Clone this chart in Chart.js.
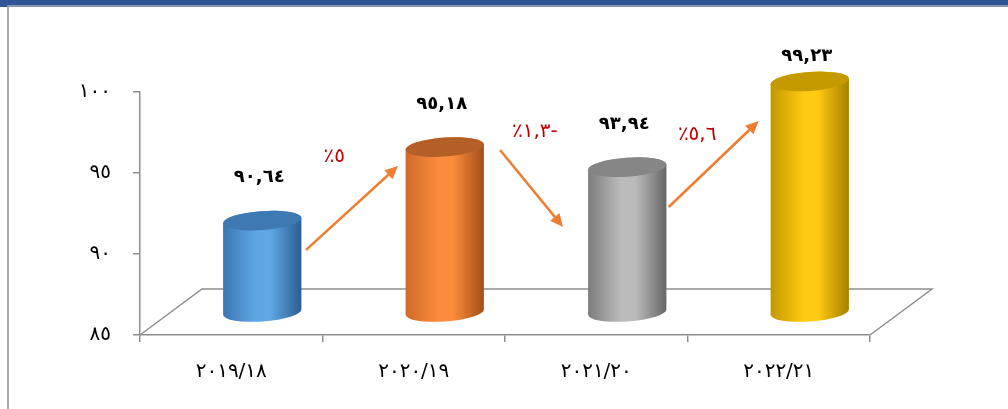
<!DOCTYPE html>
<html>
<head>
<meta charset="utf-8">
<script src="https://cdn.jsdelivr.net/npm/chart.js@4.4.0/dist/chart.umd.min.js"></script>
<style>
  html, body { margin: 0; padding: 0; background: #fff; }
  #wrap { width: 1008px; height: 409px; position: relative; }
</style>
</head>
<body>
<div id="wrap"><canvas id="myChart"></canvas></div>
<script>
let categories = ['٢٠١٩/١٨', '٢٠٢٠/١٩', '٢٠٢١/٢٠', '٢٠٢٢/٢١'];
let values = [90.64, 95.18, 93.94, 99.23];
let changes = ['٪٥', '٪١,٣-', '٪٥,٦'];
let yTicks = ['٨٥', '٩٠', '٩٥', '١٠٠'];

// arrows between bars, in (category index, value) units
let arrowFrom = [[0.41, 90.25], [1.473, 96.42], [2.397, 92.9]];
let arrowTo = [[0.914, 95.43], [1.818, 91.67], [2.89, 98.21]];
let changeAt = [[0.565, 96.0], [1.664, 97.55], [2.553, 97.35]];

// side gradient (left, highlight, right) and top colour for each cylinder
let palette = [
    { left: '#3A76B2', mid: '#5FA7E4', right: '#2C5D8F', top: '#3F79B2' },
    { left: '#D2692A', mid: '#FB8C3B', right: '#A44E19', top: '#B45F27' },
    { left: '#7C7C7C', mid: '#BBBBBB', right: '#676767', top: '#868686' },
    { left: '#C29800', mid: '#FFCA10', right: '#A38000', top: '#C49A00' }
];

const axisGray = '#8E8E8E';
const depth = { x: 62, y: -46 };
const arabicDigits = '٠١٢٣٤٥٦٧٨٩';

function toArabic(str) {
    return str.replace(/[0-9]/g, d => arabicDigits[+d]);
}

function drawCylinder(ctx, cx, top, bottom, w, c) {
    const rx = w / 2, ry = 9.5, rot = -0.07;
    const grad = ctx.createLinearGradient(cx - rx, 0, cx + rx, 0);
    grad.addColorStop(0, c.left);
    grad.addColorStop(0.42, c.mid);
    grad.addColorStop(0.6, c.mid);
    grad.addColorStop(1, c.right);

    ctx.beginPath();
    ctx.ellipse(cx, top, rx, ry, rot, Math.PI, 0, false);
    ctx.ellipse(cx, bottom, rx, ry, rot, 0, Math.PI, false);
    ctx.closePath();
    ctx.fillStyle = grad;
    ctx.fill();

    ctx.beginPath();
    ctx.ellipse(cx, top, rx, ry, rot, 0, Math.PI * 2);
    ctx.fillStyle = c.top;
    ctx.fill();
}

function drawArrow(ctx, x1, y1, x2, y2) {
    const ang = Math.atan2(y2 - y1, x2 - x1);
    const head = 13, half = 6;
    const bx = x2 - head * Math.cos(ang), by = y2 - head * Math.sin(ang);
    ctx.strokeStyle = '#ED7D31';
    ctx.fillStyle = '#ED7D31';
    ctx.lineWidth = 2.5;
    ctx.beginPath();
    ctx.moveTo(x1, y1);
    ctx.lineTo(bx, by);
    ctx.stroke();
    ctx.beginPath();
    ctx.moveTo(x2, y2);
    ctx.lineTo(bx + half * Math.sin(ang), by - half * Math.cos(ang));
    ctx.lineTo(bx - half * Math.sin(ang), by + half * Math.cos(ang));
    ctx.closePath();
    ctx.fill();
}

// blue band on top and the thin frame line on the left
const framePlugin = {
    id: 'frame',
    beforeDraw(chart) {
        const ctx = chart.ctx;
        ctx.save();
        ctx.fillStyle = '#2F5597';
        ctx.fillRect(0, 0, chart.width, 5);
        ctx.fillRect(0, 0, 7, 7);
        ctx.fillStyle = '#8496B0';
        ctx.fillRect(7, 5, chart.width - 7, 2);
        ctx.fillStyle = '#A8A8A8';
        ctx.fillRect(7, 7, 2, chart.height - 7);
        ctx.restore();
    }
};

// floor, cylinders, value labels and change arrows
const cylinderPlugin = {
    id: 'cylinders',
    beforeDatasetsDraw(chart) {
        const { ctx, chartArea: a } = chart;
        ctx.save();
        ctx.strokeStyle = axisGray;
        ctx.lineWidth = 1.5;
        ctx.beginPath();
        ctx.moveTo(a.left, a.bottom);
        ctx.lineTo(a.left + depth.x, a.bottom + depth.y);
        ctx.lineTo(a.right + depth.x, a.bottom + depth.y);
        ctx.lineTo(a.right, a.bottom);
        ctx.stroke();
        ctx.restore();
    },
    afterDatasetsDraw(chart) {
        const { ctx, scales: { x, y } } = chart;
        const meta = chart.getDatasetMeta(0);
        const px = f => {
            const i = Math.floor(f);
            const p0 = x.getPixelForValue(i), p1 = x.getPixelForValue(i + 1);
            return p0 + (f - i) * (p1 - p0);
        };
        const floorY = y.getPixelForValue(y.min);
        ctx.save();
        meta.data.forEach((bar, i) => {
            const cx = bar.x + depth.x / 2;
            const top = y.getPixelForValue(values[i]) + depth.y / 2;
            const bottom = floorY + depth.y / 2;
            drawCylinder(ctx, cx, top, bottom, bar.width, palette[i]);

            ctx.fillStyle = '#000';
            ctx.font = 'bold 18px "DejaVu Sans"';
            ctx.textAlign = 'center';
            ctx.textBaseline = 'middle';
            const label = toArabic(values[i].toFixed(2).replace('.', ','));
            ctx.fillText(label, cx - 3, Math.max(top - 43, 56));
        });

        arrowFrom.forEach((p, i) => {
            drawArrow(ctx, px(p[0]), y.getPixelForValue(p[1]),
                px(arrowTo[i][0]), y.getPixelForValue(arrowTo[i][1]));
            ctx.fillStyle = '#C00000';
            ctx.font = '20px "DejaVu Sans"';
            ctx.textAlign = 'center';
            ctx.textBaseline = 'middle';
            ctx.fillText(changes[i], px(changeAt[i][0]), y.getPixelForValue(changeAt[i][1]));
        });
        ctx.restore();
    }
};

let canvas = document.getElementById('myChart').getContext('2d');

let chart = new Chart(canvas, {
    type: 'bar',
    data: {
        labels: categories,
        datasets: [{
            data: values,
            backgroundColor: 'rgba(0,0,0,0)',
            borderWidth: 0,
            barPercentage: 0.43,
            categoryPercentage: 1
        }]
    },
    options: {
        responsive: true,
        maintainAspectRatio: false,
        animation: false,
        layout: { padding: { top: 92, right: 138, left: 0, bottom: 0 } },
        plugins: {
            legend: { display: false },
            tooltip: { enabled: false }
        },
        scales: {
            x: {
                grid: { drawOnChartArea: false, tickLength: 7, color: axisGray, lineWidth: 1.5 },
                border: { color: axisGray, width: 1.5 },
                ticks: { color: '#000', padding: 18, maxRotation: 0, font: { family: 'DejaVu Sans', size: 20 } },
                afterFit: s => { s.height = 74; }
            },
            y: {
                min: 85,
                max: 100,
                grid: { drawOnChartArea: false, tickLength: 7, color: axisGray, lineWidth: 1.5 },
                border: { color: axisGray, width: 1.5 },
                ticks: {
                    stepSize: 5,
                    color: '#000',
                    padding: 22,
                    font: { family: 'DejaVu Sans', size: 20 },
                    callback: (v, i) => yTicks[i]
                },
                afterFit: s => { s.width = 140; }
            }
        }
    },
    plugins: [framePlugin, cylinderPlugin]
});
</script>
</body>
</html>
